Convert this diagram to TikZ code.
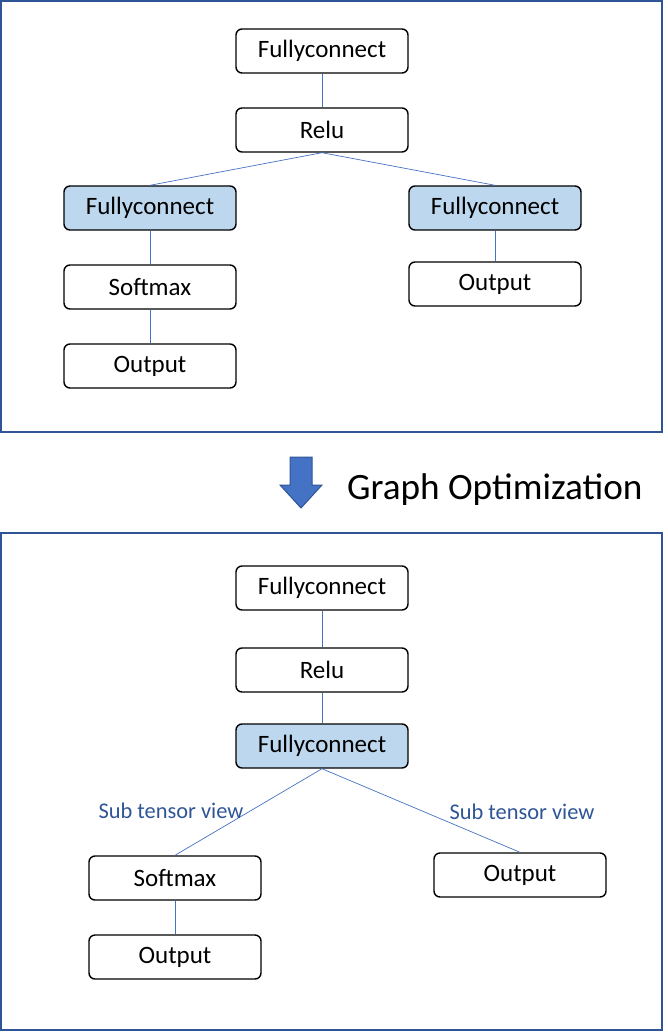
\documentclass[tikz,border=0pt]{standalone}
\usepackage{fontspec}
\setmainfont{Carlito}
\usepackage{tikz}
\usetikzlibrary{shapes,arrows}
\usetikzlibrary{positioning}
\definecolor{panelBlue}{HTML}{2F5597}
\definecolor{edgeBlue}{HTML}{4472C4}
\definecolor{opFill}{HTML}{BDD7EE}
\tikzset{
  opBox/.style={draw,line width=0.7pt,rounded corners=3pt,fill=white,minimum width=86pt,minimum height=22pt,inner sep=0pt,font=\fontsize{12.5}{14}\selectfont},
  opHot/.style={opBox,fill=opFill},
  link/.style={draw=edgeBlue,line width=0.35pt},
  panel/.style={draw=panelBlue,line width=1pt},
  viewLabel/.style={text=panelBlue,font=\fontsize{11.2}{13}\selectfont}
}
\begin{document}
\begin{tikzpicture}[x=0.5pt,y=-0.5pt]
    \useasboundingbox (0,0) rectangle (668,1032);
    % before optimization
    \draw [panel] (1,1) rectangle (662,432);
    \node[opBox] (fcA) at (322,51) {Fullyconnect};
    \node[opBox] (reluA) at (322,130) {Relu};
    \node[opHot] (fcL) at (150,208) {Fullyconnect};
    \node[opBox] (smA) at (150,287) {Softmax};
    \node[opBox] (outL) at (150,366) {Output};
    \node[opHot] (fcR) at (495,208) {Fullyconnect};
    \node[opBox] (outR) at (495,284) {Output};
    \draw [link] (fcA) -- (reluA);
    \draw [link] (reluA.south) -- (fcL.north);
    \draw [link] (reluA.south) -- (fcR.north);
    \draw [link] (fcL) -- (smA);
    \draw [link] (smA) -- (outL);
    \draw [link] (fcR) -- (outR);
    % step arrow
    \draw [draw=panelBlue,fill=edgeBlue,line width=0.5pt,line join=miter]
      (290,457) -- (312,457) -- (312,485) -- (322,485) -- (301,508) -- (280,485) -- (290,485) -- cycle;
    \node[anchor=west,font=\fontsize{18.6}{22}\selectfont] (title) at (340,490) {Graph Optimization};
    % after optimization
    \draw [panel] (1,533) rectangle (662,1030);
    \node[opBox] (fcB) at (322,588) {Fullyconnect};
    \node[opBox] (reluB) at (322,670) {Relu};
    \node[opHot] (fcM) at (322,746) {Fullyconnect};
    \node[opBox] (smB) at (175,878) {Softmax};
    \node[opBox] (outM) at (175,957) {Output};
    \node[opBox] (outN) at (520,875) {Output};
    \draw [link] (fcB) -- (reluB);
    \draw [link] (reluB) -- (fcM);
    \draw [link] (fcM.south) -- (smB.north);
    \draw [link] (fcM.south) -- (outN.north);
    \draw [link] (smB) -- (outM);
    \node[viewLabel] (viewL) at (171,811) {Sub tensor view};
    \node[viewLabel] (viewR) at (522,812) {Sub tensor view};
\end{tikzpicture}
\end{document}
